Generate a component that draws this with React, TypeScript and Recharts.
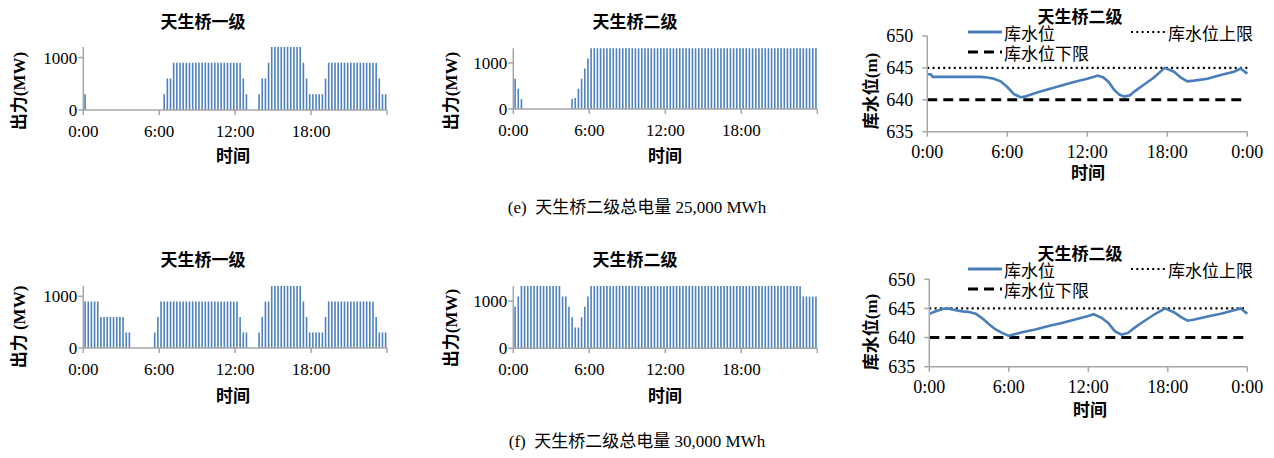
import React from "react";
import { BarChart, Bar, LineChart, Line, XAxis, YAxis, ReferenceLine } from "recharts";

// 15-min output (MW), 4 values per hour, 0:00 -> 23:45
// (e) total 25,000 MWh
const g1Power25 = [
  300, 0, 0, 0, /* 1h */ 0, 0, 0, 0, /* 2h */ 0, 0, 0, 0, /* 3h */ 0, 0, 0, 0,
  /* 4h */ 0, 0, 0, 0, /* 5h */ 0, 0, 0, 0, /* 6h */ 0, 300, 600, 600, /* 7h */ 900, 900, 900, 900,
  /* 8h */ 900, 900, 900, 900, /* 9h */ 900, 900, 900, 900, /* 10h */ 900, 900, 900, 900, /* 11h */ 900, 900, 900, 900,
  /* 12h */ 900, 900, 600, 300, /* 13h */ 0, 0, 0, 300, /* 14h */ 600, 600, 900, 1200, /* 15h */ 1200, 1200, 1200, 1200,
  /* 16h */ 1200, 1200, 1200, 1200, /* 17h */ 1200, 900, 600, 300, /* 18h */ 300, 300, 300, 300, /* 19h */ 600, 900, 900, 900,
  /* 20h */ 900, 900, 900, 900, /* 21h */ 900, 900, 900, 900, /* 22h */ 900, 900, 900, 900, /* 23h */ 900, 600, 300, 300,
];
const g2Power25 = [
  660, 440, 220, 0, /* 1h */ 0, 0, 0, 0, /* 2h */ 0, 0, 0, 0, /* 3h */ 0, 0, 0, 0,
  /* 4h */ 0, 0, 220, 240, /* 5h */ 440, 660, 880, 1100, /* 6h */ 1320, 1320, 1320, 1320, /* 7h */ 1320, 1320, 1320, 1320,
  /* 8h */ 1320, 1320, 1320, 1320, /* 9h */ 1320, 1320, 1320, 1320, /* 10h */ 1320, 1320, 1320, 1320, /* 11h */ 1320, 1320, 1320, 1320,
  /* 12h */ 1320, 1320, 1320, 1320, /* 13h */ 1320, 1320, 1320, 1320, /* 14h */ 1320, 1320, 1320, 1320, /* 15h */ 1320, 1320, 1320, 1320,
  /* 16h */ 1320, 1320, 1320, 1320, /* 17h */ 1320, 1320, 1320, 1320, /* 18h */ 1320, 1320, 1320, 1320, /* 19h */ 1320, 1320, 1320, 1320,
  /* 20h */ 1320, 1320, 1320, 1320, /* 21h */ 1320, 1320, 1320, 1320, /* 22h */ 1320, 1320, 1320, 1320, /* 23h */ 1320, 1320, 1320, 1320,
];
// (f) total 30,000 MWh
const g1Power30 = [
  900, 900, 900, 900, /* 1h */ 900, 600, 600, 600, /* 2h */ 600, 600, 600, 600, /* 3h */ 600, 300, 300, 0,
  /* 4h */ 0, 0, 0, 0, /* 5h */ 0, 0, 300, 600, /* 6h */ 900, 900, 900, 900, /* 7h */ 900, 900, 900, 900,
  /* 8h */ 900, 900, 900, 900, /* 9h */ 900, 900, 900, 900, /* 10h */ 900, 900, 900, 900, /* 11h */ 900, 900, 900, 900,
  /* 12h */ 900, 600, 300, 300, /* 13h */ 0, 0, 0, 300, /* 14h */ 600, 900, 900, 1200, /* 15h */ 1200, 1200, 1200, 1200,
  /* 16h */ 1200, 1200, 1200, 1200, /* 17h */ 1200, 900, 600, 300, /* 18h */ 300, 300, 300, 300, /* 19h */ 600, 900, 900, 900,
  /* 20h */ 900, 900, 900, 900, /* 21h */ 900, 900, 900, 900, /* 22h */ 900, 900, 900, 900, /* 23h */ 600, 300, 300, 300,
];
const g2Power30 = [
  880, 1100, 1320, 1320, /* 1h */ 1320, 1320, 1320, 1320, /* 2h */ 1320, 1320, 1320, 1320, /* 3h */ 1320, 1320, 1320, 1100,
  /* 4h */ 1100, 880, 660, 440, /* 5h */ 440, 660, 880, 1100, /* 6h */ 1320, 1320, 1320, 1320, /* 7h */ 1320, 1320, 1320, 1320,
  /* 8h */ 1320, 1320, 1320, 1320, /* 9h */ 1320, 1320, 1320, 1320, /* 10h */ 1320, 1320, 1320, 1320, /* 11h */ 1320, 1320, 1320, 1320,
  /* 12h */ 1320, 1320, 1320, 1320, /* 13h */ 1320, 1320, 1320, 1320, /* 14h */ 1320, 1320, 1320, 1320, /* 15h */ 1320, 1320, 1320, 1320,
  /* 16h */ 1320, 1320, 1320, 1320, /* 17h */ 1320, 1320, 1320, 1320, /* 18h */ 1320, 1320, 1320, 1320, /* 19h */ 1320, 1320, 1320, 1320,
  /* 20h */ 1320, 1320, 1320, 1320, /* 21h */ 1320, 1320, 1320, 1320, /* 22h */ 1320, 1320, 1320, 1100, /* 23h */ 1100, 1100, 1100, 1100,
];

// reservoir level of 天生桥二级 (m), read at these hours
const levelHours25 = [0, 0.25, 0.4, 1, 2, 3, 4, 4.5, 5, 5.5, 6, 6.5, 7, 7.3, 8, 9, 10, 11, 12, 12.8, 13.2, 13.6, 14, 14.4, 14.8, 15.2, 15.6, 16, 17, 17.8, 18.5, 19, 19.5, 20, 21, 22, 23, 23.5, 24];
const level25 = [644.0, 644.0, 643.6, 643.6, 643.6, 643.6, 643.6, 643.5, 643.3, 642.9, 642.0, 640.9, 640.4, 640.5, 641.0, 641.6, 642.2, 642.8, 643.3, 643.8, 643.5, 642.8, 641.6, 640.8, 640.5, 640.7, 641.4, 642.0, 643.5, 645.0, 644.4, 643.5, 642.9, 643.0, 643.3, 643.9, 644.4, 644.9, 644.1];
const levelHours30 = [0, 0.5, 1, 1.4, 2, 2.5, 3, 3.5, 4, 4.5, 5, 5.5, 6, 6.5, 7, 8, 9, 10, 11, 12, 12.4, 13, 13.5, 14, 14.5, 15, 15.5, 16, 17, 17.8, 18.5, 19, 19.5, 20, 21, 22, 23, 23.5, 24];
const level30 = [644.1, 644.5, 644.9, 645.0, 644.7, 644.5, 644.4, 644.1, 643.3, 642.3, 641.4, 640.8, 640.3, 640.6, 640.9, 641.4, 642.0, 642.5, 643.1, 643.7, 644.0, 643.4, 642.5, 641.1, 640.5, 640.8, 641.7, 642.5, 644.0, 645.0, 644.3, 643.5, 642.9, 643.1, 643.6, 644.1, 644.7, 645.0, 644.1];

const upperLimit = 645;
const lowerLimit = 640;
const hourTicks = [0, 6, 12, 18, 24];
const powerTicks = [0, 1000];
const levelTicks = [635, 640, 645, 650];

const SERIF = '"Liberation Serif", "Times New Roman", serif';
const MIXED = '"Liberation Serif", "Noto Sans CJK SC", sans-serif';
const CJK = '"Noto Sans CJK SC", sans-serif';
const AXIS = "#A6A6A6";
const BLUE = "#4F81BD";

type Box = { x: number; y: number; w: number; h: number };
type Plot = { l: number; r: number; t: number; b: number };
type Pt = [number, number];

function Txt({ at, children, size = 17, bold = false, font = CJK, rotate = false }: any) {
  return (
    <div
      style={{
        position: "absolute",
        left: at[0],
        top: at[1],
        transform: `translate(-50%, -50%)${rotate ? " rotate(-90deg)" : ""}`,
        fontFamily: font,
        fontSize: size,
        fontWeight: bold ? 700 : 400,
        lineHeight: 1,
        whiteSpace: "nowrap",
        color: "#000",
      }}
    >
      {children}
    </div>
  );
}

function marginFor(box: Box, plot: Plot, yW: number, xH: number) {
  return {
    left: plot.l - box.x - yW,
    right: box.x + box.w - plot.r,
    top: plot.t - box.y,
    bottom: box.y + box.h - plot.b - xH,
  };
}

// tick text drawn in Times-like serif
const serifTick = (size: number, fmt: (v: number) => string = (v) => String(v)) => (p: any) => (
  <text
    x={p.x}
    y={p.y}
    textAnchor={p.textAnchor}
    dy={p.verticalAnchor === "start" ? "0.71em" : "0.355em"}
    fontFamily={SERIF}
    style={{ fontFamily: SERIF }}
    fontSize={size}
    fill="#000"
  >
    {fmt(p.payload.value)}
  </text>
);

const barHour = (h: number) => (h === 24 ? "" : `${h}:00`);
const lineHour = (h: number) => `${h % 24}:00`;

function PowerPanel(props: {
  box: Box; plot: Plot; values: number[]; yMax: number; title: string; yLabel: string;
  titleAt: Pt; yLabelAt: Pt; xLabelAt: Pt;
}) {
  const { box, plot, values, yMax } = props;
  const yW = 50;
  const xH = 30;
  const data = values.map((mw, i) => ({ t: (i + 0.5) / 4, mw }));
  return (
    <>
      <div style={{ position: "absolute", left: box.x, top: box.y }}>
        <BarChart width={box.w} height={box.h} data={data} margin={marginFor(box, plot, yW, xH)}>
          <XAxis
            type="number"
            dataKey="t"
            domain={[0, 24]}
            ticks={hourTicks}
            height={xH}
            axisLine={{ stroke: AXIS, strokeWidth: 1.5 }}
            tickLine={{ stroke: AXIS, strokeWidth: 1.5 }}
            tickSize={5}
            tickMargin={10}
            tick={serifTick(17, barHour)}
            allowDataOverflow
          />
          <YAxis
            type="number"
            domain={[0, yMax]}
            ticks={powerTicks}
            width={yW}
            axisLine={{ stroke: AXIS, strokeWidth: 1.5 }}
            tickLine={{ stroke: AXIS, strokeWidth: 1.5 }}
            tickSize={5}
            tickMargin={1}
            tick={serifTick(17)}
          />
          <Bar dataKey="mw" fill={BLUE} barSize={1.6} isAnimationActive={false} />
        </BarChart>
      </div>
      <Txt at={props.titleAt} bold>{props.title}</Txt>
      <Txt at={props.yLabelAt} bold rotate font={MIXED}>{props.yLabel}</Txt>
      <Txt at={props.xLabelAt} bold>时间</Txt>
    </>
  );
}

function LegendSample({ x, y, dash, width }: { x: number; y: number; dash?: string; width: number }) {
  return (
    <svg style={{ position: "absolute", left: x, top: y - 4 }} width={34} height={8}>
      <line x1={0} y1={4} x2={34} y2={4} stroke={dash ? "#000" : "#4A7EBB"} strokeWidth={width} strokeDasharray={dash} />
    </svg>
  );
}

const legendText = (x: number, y: number) => ({
  position: "absolute" as const,
  left: x,
  top: y - 8,
  fontFamily: CJK,
  fontSize: 17,
  lineHeight: "17px",
  whiteSpace: "nowrap" as const,
});

function LevelPanel(props: {
  box: Box; plot: Plot; hours: number[]; levels: number[];
  titleAt: Pt; yLabelAt: Pt; xLabelAt: Pt; legendY: [number, number];
}) {
  const { box, plot } = props;
  const yW = 50;
  const xH = 30;
  const data = props.hours.map((h, i) => ({ h, level: props.levels[i] }));
  const [r1, r2] = props.legendY;
  return (
    <>
      <div style={{ position: "absolute", left: box.x, top: box.y }}>
        <LineChart width={box.w} height={box.h} data={data} margin={marginFor(box, plot, yW, xH)}>
          <XAxis
            type="number"
            dataKey="h"
            domain={[0, 24]}
            ticks={hourTicks}
            height={xH}
            axisLine={{ stroke: AXIS, strokeWidth: 1.5 }}
            tickLine={{ stroke: AXIS, strokeWidth: 1.5 }}
            tickSize={5}
            tickMargin={9}
            tick={serifTick(18, lineHour)}
          />
          <YAxis
            type="number"
            domain={[635, 650]}
            ticks={levelTicks}
            width={yW}
            axisLine={{ stroke: AXIS, strokeWidth: 1.5 }}
            tickLine={{ stroke: AXIS, strokeWidth: 1.5 }}
            tickSize={5}
            tickMargin={9}
            tick={serifTick(18)}
          />
          <ReferenceLine y={upperLimit} stroke="#000" strokeWidth={2.2} strokeDasharray="2 3.3" />
          <ReferenceLine y={lowerLimit} stroke="#000" strokeWidth={3} strokeDasharray="10 6" />
          <Line type="linear" dataKey="level" stroke="#4A7EBB" strokeWidth={2.6} dot={false} isAnimationActive={false} />
        </LineChart>
      </div>
      <Txt at={props.titleAt} bold>天生桥二级</Txt>
      <LegendSample x={968} y={r1} width={3} />
      <div style={legendText(1004, r1)}>库水位</div>
      <LegendSample x={1131} y={r1} width={2.2} dash="2 3.3" />
      <div style={legendText(1168, r1)}>库水位上限</div>
      <LegendSample x={968} y={r2} width={3} dash="10 6" />
      <div style={legendText(1004, r2)}>库水位下限</div>
      <Txt at={props.yLabelAt} bold rotate font={MIXED}>库水位(m)</Txt>
      <Txt at={props.xLabelAt} bold>时间</Txt>
    </>
  );
}

export default function App() {
  return (
    <div style={{ position: "absolute", left: 0, top: 0, width: 1274, height: 458, background: "#fff", overflow: "hidden" }}>
      {/* row (e) */}
      <PowerPanel
        box={{ x: 0, y: 30, w: 400, h: 150 }}
        plot={{ l: 83.3, r: 387, t: 47, b: 110 }}
        values={g1Power25}
        yMax={1200}
        title="天生桥一级"
        yLabel="出力(MW)"
        titleAt={[203, 20]}
        yLabelAt={[18.5, 91]}
        xLabelAt={[233, 154]}
      />
      <PowerPanel
        box={{ x: 420, y: 30, w: 420, h: 150 }}
        plot={{ l: 513.3, r: 817.3, t: 48.3, b: 109 }}
        values={g2Power25}
        yMax={1320}
        title="天生桥二级"
        yLabel="出力(MW)"
        titleAt={[635, 20]}
        yLabelAt={[451, 91]}
        xLabelAt={[665, 154]}
      />
      <LevelPanel
        box={{ x: 850, y: 20, w: 424, h: 165 }}
        plot={{ l: 927.3, r: 1247.3, t: 36, b: 131.7 }}
        hours={levelHours25}
        levels={level25}
        titleAt={[1080, 14.5]}
        yLabelAt={[871, 91]}
        xLabelAt={[1088, 170.5]}
        legendY={[32, 52]}
      />
      <Txt at={[637, 207]} font={MIXED}>(e)&nbsp; 天生桥二级总电量 25,000 MWh</Txt>

      {/* row (f) */}
      <PowerPanel
        box={{ x: 0, y: 268, w: 400, h: 150 }}
        plot={{ l: 83.3, r: 387, t: 286, b: 348 }}
        values={g1Power30}
        yMax={1200}
        title="天生桥一级"
        yLabel="出力 (MW)"
        titleAt={[203, 258.3]}
        yLabelAt={[18.5, 327]}
        xLabelAt={[233, 394.3]}
      />
      <PowerPanel
        box={{ x: 420, y: 268, w: 420, h: 150 }}
        plot={{ l: 513.3, r: 817.3, t: 286, b: 348.3 }}
        values={g2Power30}
        yMax={1320}
        title="天生桥二级"
        yLabel="出力(MW)"
        titleAt={[635, 258.3]}
        yLabelAt={[451, 327.5]}
        xLabelAt={[665, 394.3]}
      />
      <LevelPanel
        box={{ x: 850, y: 245, w: 424, h: 165 }}
        plot={{ l: 929.3, r: 1247.3, t: 279.3, b: 366.7 }}
        hours={levelHours30}
        levels={level30}
        titleAt={[1080, 252]}
        yLabelAt={[871, 332]}
        xLabelAt={[1090, 407.5]}
        legendY={[269, 289]}
      />
      <Txt at={[637, 441]} font={MIXED}>(f)&nbsp; 天生桥二级总电量 30,000 MWh</Txt>
    </div>
  );
}
